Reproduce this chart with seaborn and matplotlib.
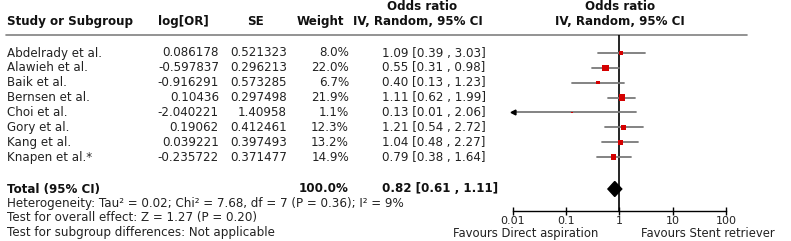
import matplotlib
matplotlib.use("Agg")
import matplotlib.pyplot as plt
import seaborn as sns
import pandas as pd

# data
studies = ["Abdelrady et al.", "Alawieh et al.", "Baik et al.", "Bernsen et al.",
           "Choi et al.", "Gory et al.", "Kang et al.", "Knapen et al.*"]
log_or = [0.086178, -0.597837, -0.916291, 0.10436, -2.040221, 0.19062, 0.039221, -0.235722]
se = [0.521323, 0.296213, 0.573285, 0.297498, 1.40958, 0.412461, 0.397493, 0.371477]
weight = [8.0, 22.0, 6.7, 21.9, 1.1, 12.3, 13.2, 14.9]
odds = [1.09, 0.55, 0.40, 1.11, 0.13, 1.21, 1.04, 0.79]
ci_lo = [0.39, 0.31, 0.13, 0.62, 0.01, 0.54, 0.48, 0.38]
ci_hi = [3.03, 0.98, 1.23, 1.99, 2.06, 2.72, 2.27, 1.64]

total_weight = 100.0
total_or, total_lo, total_hi = 0.82, 0.61, 1.11
ticks = [0.01, 0.1, 1, 10, 100]
tick_labels = ["0.01", "0.1", "1", "10", "100"]

sns.set_style("white")
plt.rcParams["font.family"] = ["DejaVu Sans"]

# row positions in pixel space of the figure
row_y = [53 + 14.86 * i for i in range(len(studies))]
total_y = 189

df = pd.DataFrame({"study": studies, "log_or": log_or, "se": se, "weight": weight,
                   "odds": odds, "lo": ci_lo, "hi": ci_hi, "y": row_y})

fig = plt.figure(figsize=(7.91, 2.41), dpi=100)
bg = fig.add_axes([0, 0, 1, 1])
bg.set_xlim(0, 791)
bg.set_ylim(241, 0)
bg.axis("off")

fs = 8.6
txt = "#222222"
# header
hb = dict(fontsize=fs, fontweight="bold", va="center", color="#111111")
bg.text(7, 21.5, "Study or Subgroup", **hb)
bg.text(183, 21.5, "log[OR]", ha="center", **hb)
bg.text(255, 21.5, "SE", ha="center", **hb)
bg.text(344, 21.5, "Weight", ha="right", **hb)
bg.text(422, 6.5, "Odds ratio", ha="center", **hb)
bg.text(418, 21.5, "IV, Random, 95% CI", ha="center", **hb)
bg.text(620, 6.5, "Odds ratio", ha="center", **hb)
bg.text(620, 21.5, "IV, Random, 95% CI", ha="center", **hb)
bg.plot([6, 747], [34.5, 34.5], color="#808080", lw=1.2)

# study rows
for _, r in df.iterrows():
    bg.text(7, r.y, r.study, fontsize=fs, va="center", color=txt)
    bg.text(219, r.y, str(r.log_or), fontsize=fs, va="center", ha="right", color=txt)
    bg.text(287, r.y, str(r.se), fontsize=fs, va="center", ha="right", color=txt)
    bg.text(349, r.y, f"{r.weight:.1f}%", fontsize=fs, va="center", ha="right", color=txt)
    bg.text(382, r.y, f"{r.odds:.2f} [{r.lo:.2f} , {r.hi:.2f}]", fontsize=fs, va="center", color=txt)

# total row + footnotes
bg.text(7, total_y, "Total (95% CI)", **hb)
bg.text(349, total_y, f"{total_weight:.1f}%", ha="right", **hb)
bg.text(382, total_y, f"{total_or:.2f} [{total_lo:.2f} , {total_hi:.2f}]", **hb)
bg.text(7, 203.5, "Heterogeneity: Tau² = 0.02; Chi² = 7.68, df = 7 (P = 0.36); I² = 9%",
        fontsize=fs, va="center", color=txt)
bg.text(7, 218, "Test for overall effect: Z = 1.27 (P = 0.20)", fontsize=fs, va="center", color=txt)
bg.text(7, 232.5, "Test for subgroup differences: Not applicable", fontsize=fs, va="center", color=txt)

# forest panel
x0, x1, ytop, ybot = 512.7, 726.0, 34.5, 211.0
ax = fig.add_axes([x0 / 791, (241 - ybot) / 241, (x1 - x0) / 791, (ybot - ytop) / 241])
ax.set_xscale("log")
ax.set_xlim(0.01, 100)
ax.set_ylim(ybot, ytop)
ax.patch.set_alpha(0)
for s in ["top", "left", "right"]:
    ax.spines[s].set_visible(False)
ax.spines["bottom"].set_color("black")
ax.spines["bottom"].set_linewidth(1.0)
ax.set_xticks(ticks)
ax.set_xticklabels(tick_labels, fontsize=8.0, color=txt)
ax.xaxis.set_minor_locator(matplotlib.ticker.NullLocator())
ax.tick_params(axis="x", direction="inout", length=6, width=1.0, pad=0.3, color="black", bottom=True)
ax.set_yticks([])

ax.axvline(1, color="black", lw=1.2, zorder=1)
for _, r in df.iterrows():
    ax.plot([max(r.lo, 0.01), r.hi], [r.y, r.y], color="#7a7a7a", lw=1.3, zorder=2, clip_on=False)
    if r.lo <= 0.01:
        ax.plot([0.01], [r.y], marker="<", color="black", ms=3.5, clip_on=False, zorder=3)

sns.scatterplot(data=df, x="odds", y="y", size="weight", sizes=(0.9 * min(weight), 0.9 * max(weight)),
                marker="s", color="#d40000", linewidth=0, legend=False, ax=ax, zorder=4)
ax.set_xlabel("")
ax.set_ylabel("")

ax.fill([total_lo, total_or, total_hi, total_or],
        [total_y, total_y - 7.5, total_y, total_y + 7.5], color="black", zorder=5)

bg.text(598, 233.5, "Favours Direct aspiration", fontsize=8.4, va="center", ha="right", color=txt)
bg.text(641, 233.5, "Favours Stent retriever", fontsize=8.4, va="center", ha="left", color=txt)

fig.savefig("out.png", dpi=100)
